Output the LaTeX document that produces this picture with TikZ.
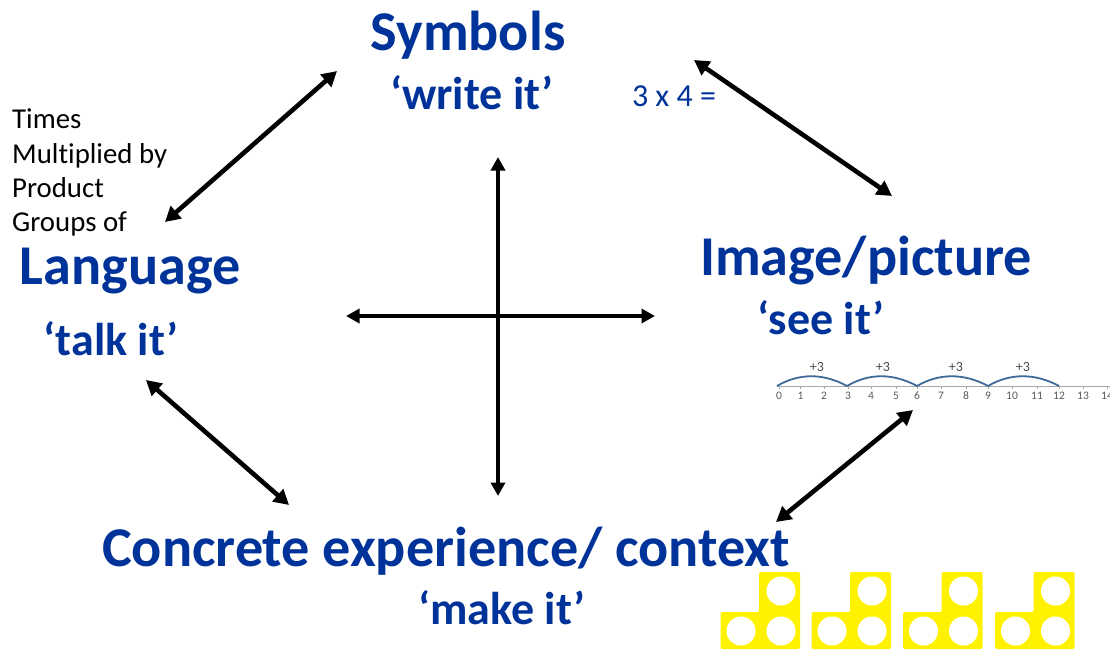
\documentclass[tikz,border=0pt]{standalone}
\usepackage{fontspec}
\setmainfont{Carlito}[Ligatures=NoCommon]
\usetikzlibrary{arrows.meta}
\definecolor{mblue}{HTML}{003399}
\definecolor{jump}{HTML}{3F6A97}
\definecolor{axisg}{HTML}{A8A8A8}
\tikzset{
 title/.style={font=\fontsize{56.2}{56.2}\selectfont\bfseries,text=mblue,inner sep=0pt},
 sub/.style={font=\fontsize{46}{46}\selectfont\bfseries,text=mblue,inner sep=0pt},
 word/.style={font=\fontsize{28.8}{28.8}\selectfont,text=black,inner sep=0pt,anchor=base west},
 link/.style={line width=4.6pt,{Triangle[length=15pt,width=16pt]}-{Triangle[length=15pt,width=16pt]},black},
 cross/.style={line width=3.8pt,{Triangle[length=13.5pt,width=14pt]}-{Triangle[length=13.5pt,width=14pt]},black},
 cubefill/.style={fill=yellow,rounded corners=1.5pt},
 hole/.style={fill=white,draw=none},
 tick/.style={axisg,line width=.8pt},
 num/.style={font=\fontsize{11.5}{11.5}\selectfont,text=black!65,inner sep=0pt},
 plus/.style={font=\fontsize{14}{14}\selectfont,text=black!70,inner sep=0pt},
 arc/.style={jump,line width=1.8pt}
}
\begin{document}
\begin{tikzpicture}[x=1pt,y=-1pt]
\useasboundingbox (0,0) rectangle (1110,649);
\node[title] (sym) at (468,35) {Symbols};
\node[sub] (write) at (472,93) {‘write it’};
\node[title] (lang) at (130,271) {Language};
\node[sub] (talk) at (111,339) {‘talk it’};
\node[title] (img) at (866,261) {Image/picture};
\node[sub] (see) at (821,318) {‘see it’};
\node[title] (conc) at (446,551) {Concrete experience/ context};
\node[sub] (make) at (502,608) {‘make it’};
\node[font=\fontsize{32}{32}\selectfont,text=mblue,inner sep=0pt] (eq) at (674,96) {3 x 4 =};
\node[word] (w1) at (12,128) {Times};
\node[word] (w2) at (12,163) {Multiplied by};
\node[word] (w3) at (12,197) {Product};
\node[word] (w4) at (12,231) {Groups of};
% connector ends
\coordinate (a1) at (337,71); \coordinate (a2) at (165,222);
\coordinate (b1) at (694,60); \coordinate (b2) at (892,196);
\coordinate (c1) at (498,157); \coordinate (c2) at (498,496);
\coordinate (d1) at (346,316); \coordinate (d2) at (655,316);
\coordinate (e1) at (146,380); \coordinate (e2) at (289,505);
\coordinate (f1) at (913,410); \coordinate (f2) at (776,522);
\draw[link] (a1) -- (a2);
\draw[link] (b1) -- (b2);
\draw[cross] (c1) -- (c2);
\draw[cross] (d1) -- (d2);
\draw[link] (e1) -- (e2);
\draw[link] (f1) -- (f2);
% number line
\draw[axisg,line width=.8pt] (777,386) -- (1110,386);
\foreach \n/\x in {0/779,1/800.5,2/824,3/848,4/871,5/896,6/917,7/941,8/966,9/988,10/1012,11/1037,12/1059,13/1083,14/1107}{
 \draw[tick] (\x,386) -- (\x,389);
 \node[num] at (\x,396) {\n};
}
\foreach \a/\b in {777/847,847/917,917/988,988/1059}{
 \draw[arc] (\a,386) .. controls ({\a+22},373) and ({\b-24},373) .. (\b,386);
}
\node[plus] at (817,367) {+3};
\node[plus] at (883,367) {+3};
\node[plus] at (956,367) {+3};
\node[plus] at (1023,367) {+3};
% cubes
\foreach \d/\s in {0/0,91/0,182.5/0,274.5/0}{
 \begin{scope}[shift={(\d,0)}]
 \fill[cubefill] (720.5,649) -- (720.5,612) -- (759,612) -- (759,572) -- (800,572) -- (800,649) -- cycle;
 \fill[hole] (781,591) circle (14.5);
 \fill[hole] (781,631) circle (14.5);
 \fill[hole] (741,631) circle (14.5);
 \end{scope}
}
\end{tikzpicture}
\end{document}
